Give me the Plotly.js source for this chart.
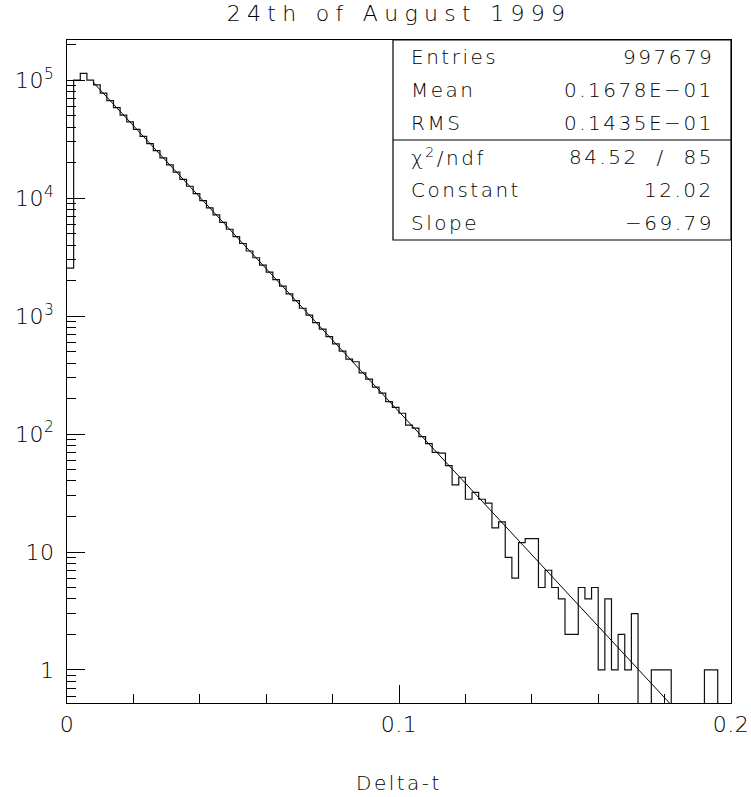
<!DOCTYPE html>
<html>
<head>
<meta charset="utf-8">
<script src="https://cdn.plot.ly/plotly-3.0.1.min.js"></script>
<style>
  html, body { margin: 0; padding: 0; background: #fff; }
  #chart { width: 751px; height: 797px; }
  svg text { letter-spacing: 2.5px; }
  svg text.gtitle { letter-spacing: 6.3px; }
  svg g.xtick text, svg g.ytick text { letter-spacing: 0.5px; }
</style>
</head>
<body>
<div id="chart"></div>
<script>
// ---- Data ----
const TITLE = "24th of August 1999";
const X_TITLE = "Delta-t";
const BIN_LOW = 0.0;
const BIN_WIDTH = 0.002;
// 100 bin contents (Delta-t histogram)
const binCounts = [
  2550, 100000, 114000, 100000, 91000,
  77500, 67000, 58500, 50500, 44200,
  38300, 33400, 29000, 25300, 21900,
  19100, 16600, 14400, 12600, 10900,
  9500, 8250, 7200, 6230, 5440,
  4720, 4120, 3560, 3120, 2700,
  2360, 2040, 1790, 1540, 1350,
  1165, 1020, 880, 775, 668,
  580, 505, 432, 410, 330,
  292, 250, 222, 188, 168,
  150, 119, 112, 95, 83,
  70, 69, 54, 37, 43,
  28, 32, 28, 26, 16,
  18, 9, 6, 12, 13,
  13, 5, 7, 5, 4,
  2, 2, 5, 4, 5,
  1, 4, 1, 2, 1,
  3, 0, 0, 1, 1,
  1, 0, 0, 0, 0,
  0, 1, 1, 0, 0
];
// Exponential fit shown in the stats box
const FIT_CONSTANT = 12.02;
const FIT_SLOPE = -69.79;
const FIT_RANGE = [0.008, 0.182];
// Stats box
const statLabels = ["Entries", "Mean", "RMS"];
const statValues = ["997679", "0.1678E\u221201", "0.1435E\u221201"];
const fitLabels = ["\u03c7<sup>2</sup>/ndf", "Constant", "Slope"];
const fitValues = ["84.52  /  85", "12.02", "\u221269.79"];
// Axis ticks
const yTickVals = [1, 10, 100, 1000, 10000, 100000];
const yTickText = ["1", "10", "10<sup>2</sup>", "10<sup>3</sup>", "10<sup>4</sup>", "10<sup>5</sup>"];
const xTickVals = [0, 0.1, 0.2];
const xTickText = ["0", "0.1", "0.2"];

// ---- Build traces ----
const FLOOR = 0.05; // empty bins drawn down past the bottom of the log frame
const edges = [], stepY = [];
for (let i = 0; i < binCounts.length; i++) {
  edges.push(BIN_LOW + i * BIN_WIDTH);
  stepY.push(binCounts[i] > 0 ? binCounts[i] : FLOOR);
}
edges.push(BIN_LOW + binCounts.length * BIN_WIDTH);
stepY.push(stepY[stepY.length - 1]);

const histTrace = {
  x: edges, y: stepY, type: 'scatter', mode: 'lines',
  line: {shape: 'hv', color: '#111', width: 1.2},
  hoverinfo: 'skip', showlegend: false
};
const fitX = FIT_RANGE.slice();
const fitY = fitX.map(x => Math.exp(FIT_CONSTANT + FIT_SLOPE * x));
const fitTrace = {
  x: fitX, y: fitY, type: 'scatter', mode: 'lines',
  line: {color: '#000', width: 1},
  xaxis: 'x', yaxis: 'y2',
  hoverinfo: 'skip', showlegend: false
};

const FONT = "DejaVu Sans, sans-serif";
const WEIGHT = 200;
const TXT = '#000';
const L = 67, R = 731, T = 40, B = 703, W = 751, H = 797;
const pw = R - L, ph = B - T;
const py = (pix) => (B - pix) / ph;   // pixel row -> paper y
const px = (pix) => (pix - L) / pw;   // pixel col -> paper x

const yRange = [-0.28, 5.34];

// stats box geometry
const boxTop = 40, boxSep = 140, boxBot = 240, boxLeft = 393;
const rowY = [57, 90, 123, 157, 190, 223];
const annotations = [];
const labelsAll = statLabels.concat(fitLabels);
const valuesAll = statValues.concat(fitValues);
const tf = (s) => ({family: FONT, size: s, color: TXT, weight: WEIGHT});
for (let i = 0; i < labelsAll.length; i++) {
  annotations.push({xref: 'paper', yref: 'paper', x: px(409), y: py(rowY[i]),
    text: labelsAll[i], showarrow: false, xanchor: 'left', yanchor: 'middle', font: tf(20)});
  annotations.push({xref: 'paper', yref: 'paper', x: px(716), y: py(rowY[i]),
    text: valuesAll[i], showarrow: false, xanchor: 'right', yanchor: 'middle', font: tf(20)});
}
annotations.push({xref: 'paper', yref: 'paper', x: 0.5, y: py(783),
  text: X_TITLE, showarrow: false, xanchor: 'center', yanchor: 'middle', font: tf(20)});

const shapes = [
  {type: 'rect', xref: 'paper', yref: 'paper', x0: px(boxLeft), x1: 1, y0: py(boxBot), y1: py(boxTop),
   line: {color: '#000', width: 1.2}, fillcolor: 'rgba(0,0,0,0)'},
  {type: 'line', xref: 'paper', yref: 'paper', x0: px(boxLeft), x1: 1, y0: py(boxSep), y1: py(boxSep),
   line: {color: '#000', width: 1.2}}
];

const layout = {
  width: W, height: H,
  margin: {l: L, r: W - R, t: T, b: H - B, pad: 0},
  paper_bgcolor: '#fff', plot_bgcolor: '#fff',
  showlegend: false,
  title: {text: TITLE, x: 0.5, xref: 'paper', xanchor: 'center', y: 1 - 13 / H, yanchor: 'middle',
          font: tf(22)},
  xaxis: {
    range: [0, 0.2], tickmode: 'array', tickvals: xTickVals, ticktext: xTickText,
    ticks: 'inside', ticklen: 18, tickwidth: 1, tickcolor: '#000',
    minor: {tickmode: 'linear', tick0: 0, dtick: 0.02, ticks: 'inside', ticklen: 9, tickcolor: '#000', tickwidth: 1, showgrid: false},
    showline: true, mirror: true, linecolor: '#000', linewidth: 1.2,
    showgrid: false, zeroline: false,
    tickfont: tf(22), ticklabelstandoff: 1
  },
  yaxis: {
    type: 'log', range: yRange, tickmode: 'array', tickvals: yTickVals, ticktext: yTickText,
    ticks: 'inside', ticklen: 18, tickwidth: 1, tickcolor: '#000',
    showline: true, mirror: true, linecolor: '#000', linewidth: 1.2,
    showgrid: false, zeroline: false,
    tickfont: tf(22), ticklabelstandoff: 7
  },
  yaxis2: {
    type: 'log', range: yRange, overlaying: 'y', side: 'left',
    tickmode: 'linear', dtick: 'D1', ticks: 'inside', ticklen: 9, tickwidth: 1, tickcolor: '#000',
    showticklabels: false, showline: false, showgrid: false, zeroline: false
  },
  annotations: annotations,
  shapes: shapes
};

Plotly.newPlot('chart', [histTrace, fitTrace], layout, {staticPlot: true, displayModeBar: false});
</script>
</body>
</html>
